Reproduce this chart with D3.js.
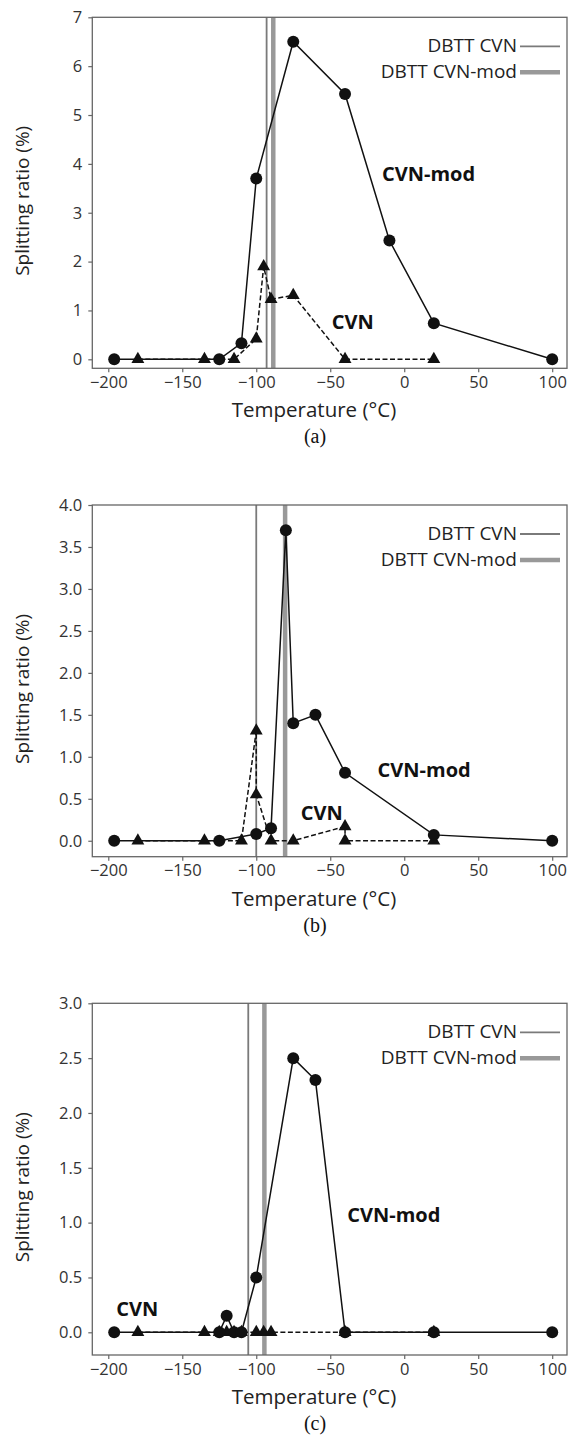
<!DOCTYPE html>
<html>
<head>
<meta charset="utf-8">
<script src="https://cdn.jsdelivr.net/npm/d3@7"></script>
<style>
  body { margin: 0; background: #fff; }
  text { font-family: "Open Sans", sans-serif; }
</style>
</head>
<body>
<svg id="chart" width="569" height="1453"></svg>
<script>
// values: [temperature (°C), splitting ratio (%)]
var xTicks = [-200, -150, -100, -50, 0, 50, 100];

// (a)
var modA = [[-196,0],[-125,0],[-110,0.33],[-100,3.7],[-75,6.5],[-40,5.43],[-10,2.43],[20,0.74],[100,0]];
var cvnA = [[-180,0],[-135,0],[-115,0],[-100,0.42],[-95,1.9],[-90,1.23],[-75,1.31],[-40,0],[20,0]];
var dbttA = [-93, -88.5];          // DBTT CVN, DBTT CVN-mod
var yTicksA = [0, 1, 2, 3, 4, 5, 6, 7];

// (b)
var modB = [[-196,0],[-125,0],[-100,0.08],[-90,0.15],[-80,3.7],[-75,1.4],[-60,1.5],[-40,0.81],[20,0.07],[100,0]];
var cvnB = [[-180,0],[-135,0],[-110,0],[-100,1.31],[-100,0.55],[-90,0],[-75,0],[-40,0.17],[-40,0],[20,0]];
var dbttB = [-100, -80.5];
var yTicksB = [0, 0.5, 1, 1.5, 2, 2.5, 3, 3.5, 4];

// (c)
var modC = [[-196,0],[-125,0],[-120,0.15],[-115,0],[-110,0],[-100,0.5],[-75,2.5],[-60,2.3],[-40,0],[20,0],[100,0]];
var cvnC = [[-180,0],[-135,0],[-125,0],[-120,0],[-115,0],[-110,0],[-100,0],[-95,0],[-90,0],[-40,0],[20,0]];
var dbttC = [-105.4, -94.5];
var yTicksC = [0, 0.5, 1, 1.5, 2, 2.5, 3];

var legendNames = ["DBTT CVN", "DBTT CVN-mod"];

// layout of each panel (pixels) and where the text labels sit (data coords)
var panels = [
  { mod: modA, cvn: cvnA, dbtt: dbttA, yTicks: yTicksA, ylim: [-0.184, 7], top: 17.3, bottom: 368.3, fmt: d3.format("d"),
    modLabel: [-15, 3.8], cvnLabel: [-49, 0.76], caption: "(a)" },
  { mod: modB, cvn: cvnB, dbtt: dbttB, yTicks: yTicksB, ylim: [-0.19, 4], top: 505, bottom: 856.7, fmt: d3.format(".1f"),
    modLabel: [-18, 0.84], cvnLabel: [-70, 0.33], caption: "(b)" },
  { mod: modC, cvn: cvnC, dbtt: dbttC, yTicks: yTicksC, ylim: [-0.207, 3], top: 1003.3, bottom: 1355, fmt: d3.format(".1f"),
    modLabel: [-38.5, 1.07], cvnLabel: [-194.6, 0.21], caption: "(c)" }
];

var left = 92.3, right = 567;
var svg = d3.select("#chart");

function minus(s) { return String(s).replace("-", "\u2212"); }

panels.forEach(function(p) {
  var x = d3.scaleLinear().domain([-210.8, 110]).range([left, right]);
  var y = d3.scaleLinear().domain(p.ylim).range([p.bottom, p.top]);
  var g = svg.append("g");

  // DBTT vertical lines (thin = CVN, thick = CVN-mod)
  g.append("line").attr("x1", x(p.dbtt[0])).attr("x2", x(p.dbtt[0]))
    .attr("y1", p.top).attr("y2", p.bottom)
    .attr("stroke", "#7a7a7a").attr("stroke-width", 1.8);
  g.append("line").attr("x1", x(p.dbtt[1])).attr("x2", x(p.dbtt[1]))
    .attr("y1", p.top).attr("y2", p.bottom)
    .attr("stroke", "#999").attr("stroke-width", 4.5);

  var line = d3.line().x(function(d){ return x(d[0]); }).y(function(d){ return y(d[1]); });

  // CVN dashed with triangles
  g.append("path").datum(p.cvn).attr("d", line)
    .attr("fill", "none").attr("stroke", "#111").attr("stroke-width", 1.5)
    .attr("stroke-dasharray", "5,2.5");
  // CVN-mod solid with circles
  g.append("path").datum(p.mod).attr("d", line)
    .attr("fill", "none").attr("stroke", "#111").attr("stroke-width", 1.5);

  g.selectAll("path.tri").data(p.cvn).enter().append("path")
    .attr("class", "tri")
    .attr("d", d3.symbol().type(d3.symbolTriangle).size(72))
    .attr("transform", function(d){ return "translate(" + x(d[0]) + "," + y(d[1]) + ")"; })
    .attr("fill", "#111");
  g.selectAll("circle").data(p.mod).enter().append("circle")
    .attr("cx", function(d){ return x(d[0]); })
    .attr("cy", function(d){ return y(d[1]); })
    .attr("r", 6).attr("fill", "#111");

  // axes
  var xAxis = d3.axisBottom(x).tickValues(xTicks).tickSize(4).tickPadding(4)
    .tickFormat(function(d){ return minus(d); });
  var yAxis = d3.axisLeft(y).tickValues(p.yTicks).tickSize(4).tickPadding(6).tickFormat(p.fmt);

  var xa = g.append("g").attr("transform", "translate(0," + p.bottom + ")").call(xAxis);
  var ya = g.append("g").attr("transform", "translate(" + left + ",0)").call(yAxis);
  [xa, ya].forEach(function(a) {
    a.select(".domain").remove();
    a.selectAll(".tick line").attr("stroke", "#666").attr("stroke-width", 1.2);
    a.selectAll(".tick text").attr("fill", "#333").style("font-size", "16.5px")
      .style("font-family", "'Open Sans', sans-serif");
  });

  // box
  g.append("rect").attr("x", left).attr("y", p.top)
    .attr("width", right - left).attr("height", p.bottom - p.top)
    .attr("fill", "none").attr("stroke", "#666").attr("stroke-width", 1.3);

  // legend, text on the left of the line samples
  legendNames.forEach(function(name, i) {
    var ly = p.top + 28 + i * 26;
    g.append("text").attr("x", 517).attr("y", ly).attr("dy", "0.35em")
      .attr("text-anchor", "end").attr("fill", "#222").style("font-size", "19px").text(name);
    g.append("line").attr("x1", 520).attr("x2", 560).attr("y1", ly + 1).attr("y2", ly + 1)
      .attr("stroke", i === 0 ? "#7a7a7a" : "#999").attr("stroke-width", i === 0 ? 1.8 : 4.5);
  });

  // series labels
  g.append("text").attr("x", x(p.modLabel[0])).attr("y", y(p.modLabel[1])).attr("dy", "0.35em")
    .attr("fill", "#111").style("font-size", "20px").style("font-weight", "bold").text("CVN-mod");
  g.append("text").attr("x", x(p.cvnLabel[0])).attr("y", y(p.cvnLabel[1])).attr("dy", "0.35em")
    .attr("fill", "#111").style("font-size", "20px").style("font-weight", "bold").text("CVN");

  // axis titles
  g.append("text").attr("x", 314).attr("y", p.bottom + 42).attr("dy", "0.35em")
    .attr("text-anchor", "middle").attr("fill", "#222").style("font-size", "20.5px")
    .text("Temperature (\u00b0C)");
  g.append("text")
    .attr("transform", "translate(22," + ((p.top + p.bottom) / 2 + 8) + ") rotate(-90)")
    .attr("dy", "0.35em").attr("text-anchor", "middle").attr("fill", "#222")
    .style("font-size", "19px").text("Splitting ratio (%)");

  // caption
  g.append("text").attr("x", 315).attr("y", p.bottom + 68).attr("dy", "0.35em")
    .attr("text-anchor", "middle").attr("fill", "#111")
    .style("font-family", "'Liberation Serif', serif").style("font-size", "20px")
    .text(p.caption);
});
</script>
</body>
</html>
